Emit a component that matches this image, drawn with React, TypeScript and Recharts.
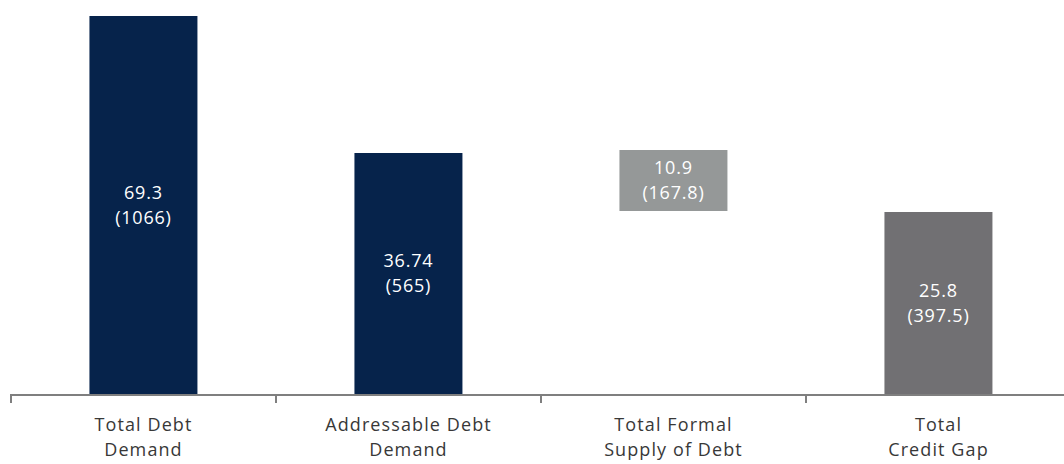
import { BarChart, Bar, XAxis, YAxis, Cell, LabelList } from "recharts"

// Categories and labels as printed in the chart
const CATEGORIES = ["Total Debt|Demand", "Addressable Debt|Demand", "Total Formal|Supply of Debt", "Total|Credit Gap"]
const VALUE_LABELS = ["69.3", "36.74", "10.9", "25.8"]
const SUB_LABELS = ["(1066)", "(565)", "(167.8)", "(397.5)"]

// Bar geometry as drawn (the picture is not to scale, so heights are read off it)
const BAR_BASES = [0, 0, 184, 0]
const BAR_HEIGHTS = [379, 242, 61, 183]
const BAR_COLORS = ["#06234b", "#06234b", "#959898", "#717073"]

const data = CATEGORIES.map((c, i) => ({
  name: c,
  base: BAR_BASES[i],
  value: BAR_HEIGHTS[i],
}))

const FONT = "'Open Sans', sans-serif"

const CategoryTick = (props: any) => {
  const { x, y, payload } = props
  const half = payload?.offset ?? 132.5
  const lines = String(payload.value).split("|")
  return (
    <g>
      <line x1={x - half} x2={x - half} y1={y - 9} y2={y} stroke="#7f7f7f" strokeWidth={2} />
      <line x1={x + half} x2={x + half} y1={y - 9} y2={y} stroke="#7f7f7f" strokeWidth={2} />
      {lines.map((l, i) => (
        <text key={i} x={x} y={y + 28 + i * 25} textAnchor="middle"
          fill="#383838" fontSize={18} letterSpacing={1.1} fontFamily={FONT}>
          {l}
        </text>
      ))}
    </g>
  )
}

const BarLabel = (props: any) => {
  const { x, y, width, height, index } = props
  const cx = x + width / 2
  const cy = y + height / 2
  return (
    <g>
      <text x={cx} y={cy - 7} textAnchor="middle" fill="#ffffff" fontSize={18}
        letterSpacing={0.8} fontFamily={FONT}>
        {VALUE_LABELS[index]}
      </text>
      <text x={cx} y={cy + 18} textAnchor="middle" fill="#ffffff" fontSize={18}
        letterSpacing={0.8} fontFamily={FONT}>
        {SUB_LABELS[index]}
      </text>
    </g>
  )
}

export default function App() {
  return (
    <div style={{ position: "absolute", left: 0, top: 0, width: 1064, height: 464, overflow: "hidden", background: "#fff" }}>
      <BarChart width={1075} height={464} data={data}
        margin={{ top: 16, right: 4, left: 11, bottom: 0 }} barCategoryGap="29.6%">
        <XAxis dataKey="name" height={69} interval={0}
          axisLine={{ stroke: "#7f7f7f", strokeWidth: 2 }} tickLine={false}
          tick={<CategoryTick />} />
        <YAxis hide domain={[0, 379]} />
        <Bar dataKey="base" stackId="w" fill="transparent" isAnimationActive={false} />
        <Bar dataKey="value" stackId="w" isAnimationActive={false}>
          {data.map((d, i) => <Cell key={i} fill={BAR_COLORS[i]} />)}
          <LabelList dataKey="value" content={<BarLabel />} />
        </Bar>
      </BarChart>
    </div>
  )
}
